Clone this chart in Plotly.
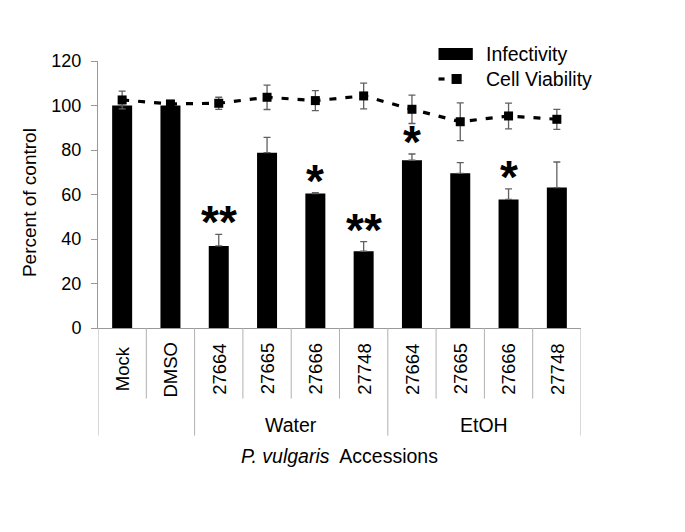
import plotly.graph_objects as go

labels = ["Mock", "DMSO", "27664", "27665", "27666", "27748", "27664", "27665", "27666", "27748"]
infectivity = [100, 100, 36.9, 78.8, 60.4, 34.5, 75.4, 69.5, 57.8, 63.1]
infect_err = [0, 0, 5.2, 6.9, 0.4, 4.3, 2.8, 4.8, 4.7, 11.5]
viability = [102.5, 100.7, 101.0, 103.7, 102.2, 104.3, 98.3, 92.7, 95.3, 93.8]
viab_err = [4.0, 1.0, 2.7, 5.5, 4.5, 5.8, 6.4, 8.5, 5.8, 4.5]
signif = ["", "", "**", "", "*", "**", "*", "", "*", ""]
groups = ["Water", "EtOH"]
group_start = [2, 6]
group_end = [5, 9]
yticks = [0, 20, 40, 60, 80, 100, 120]

FONT = "Arial, Liberation Sans, sans-serif"
xs = list(range(len(labels)))

fig = go.Figure()
fig.add_trace(go.Bar(
    x=xs, y=infectivity, name="Infectivity", width=0.414,
    marker=dict(color="black", line=dict(width=0)),
    error_y=dict(type="data", array=infect_err, arrayminus=[0]*len(xs), symmetric=False,
                 color="#606060", thickness=1.3, width=3.5),
    showlegend=False,
))
fig.add_trace(go.Scatter(
    x=xs, y=viability, name="Cell Viability", mode="lines+markers",
    line=dict(color="black", width=3.2, dash="7px,9px"),
    marker=dict(symbol="square", size=9, color="black"),
    error_y=dict(type="data", array=viab_err, color="#606060", thickness=1.3, width=3.5),
    showlegend=False,
))

shapes = []
annotations = []
GRAY = "#b0b0b0"
long_idx = {-0.5, 1.5, 5.5, 9.5}
for k in range(len(xs) + 1):
    xv = k - 0.5
    y1 = -0.403 if xv in long_idx else -0.2645
    shapes.append(dict(type="line", xref="x", yref="paper", x0=xv, x1=xv, y0=0, y1=y1,
                       line=dict(color=GRAY, width=1)))

for i, lab in enumerate(labels):
    annotations.append(dict(x=i, y=-0.154, xref="x", yref="paper", text=lab, showarrow=False,
                            textangle=-90, font=dict(family=FONT, size=18.5, color="black"),
                            xanchor="center", yanchor="middle"))
for g, s, e in zip(groups, group_start, group_end):
    annotations.append(dict(x=(s + e) / 2, y=-0.362, xref="x", yref="paper", text=g, showarrow=False,
                            font=dict(family=FONT, size=19.5, color="black"),
                            xanchor="center", yanchor="middle"))
annotations.append(dict(x=0.5, y=-0.48, xref="paper", yref="paper",
                        text="<i>P. vulgaris</i>  Accessions", showarrow=False,
                        font=dict(family=FONT, size=19.5, color="black"),
                        xanchor="center", yanchor="middle"))
annotations.append(dict(x=-0.1414, y=0.4706, xref="paper", yref="paper", text="Percent of control",
                        showarrow=False, textangle=-90, font=dict(family=FONT, size=19, color="black"),
                        xanchor="center", yanchor="middle"))

for i, s in enumerate(signif):
    if s:
        annotations.append(dict(x=i, y=infectivity[i] + infect_err[i], xref="x", yref="y", text="<b>" + s + "</b>",
                                showarrow=False, font=dict(family=FONT, size=46, color="black"),
                                xanchor="center", yanchor="bottom", yshift=-16))

# legend
shapes.append(dict(type="rect", xref="paper", yref="paper", x0=0.705, x1=0.776, y0=1.0037, y1=1.0486,
                   fillcolor="black", line=dict(width=0)))
shapes.append(dict(type="line", xref="paper", yref="paper", x0=0.705, x1=0.7175, y0=0.9326, y1=0.9326,
                   line=dict(color="black", width=3.2)))
shapes.append(dict(type="rect", xref="paper", yref="paper", x0=0.732, x1=0.753, y0=0.914, y1=0.9514,
                   fillcolor="black", line=dict(width=0)))
annotations.append(dict(x=0.7985, y=1.026, xref="paper", yref="paper", text="Infectivity", showarrow=False,
                        font=dict(family=FONT, size=19.5, color="black"), xanchor="left", yanchor="middle"))
annotations.append(dict(x=0.7985, y=0.9326, xref="paper", yref="paper", text="Cell Viability", showarrow=False,
                        font=dict(family=FONT, size=19.5, color="black"), xanchor="left", yanchor="middle"))

fig.update_layout(
    width=677, height=524,
    margin=dict(l=90, r=104, t=53, b=204, autoexpand=False),
    paper_bgcolor="white", plot_bgcolor="white",
    font=dict(family=FONT, size=18, color="black"),
    shapes=shapes, annotations=annotations,
    showlegend=False,
    xaxis=dict(range=[-0.5, 9.5], showticklabels=False, ticks="", showgrid=False, zeroline=False,
               showline=True, linecolor="#999999", linewidth=1),
    yaxis=dict(range=[0, 120], tickvals=yticks, ticks="outside", ticklen=6, tickcolor="#999999",
               showgrid=False, zeroline=False, showline=True, linecolor="#999999", linewidth=1,
               tickfont=dict(family=FONT, size=18, color="black"), ticklabelstandoff=6),
)

fig.write_html("out.html")
